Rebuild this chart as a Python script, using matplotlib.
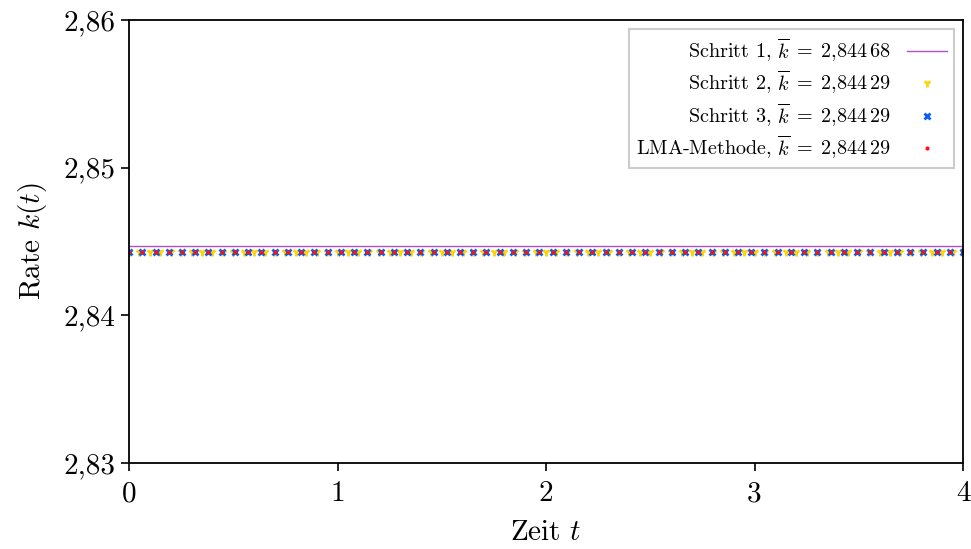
import numpy as np
import matplotlib
matplotlib.use('Agg')
import matplotlib.pyplot as plt
from matplotlib.ticker import FuncFormatter

# Daten (konstante Raten)
k_schritt1 = 2.84468
k_schritt2 = 2.84429
k_schritt3 = 2.84429
k_lma = 2.84429

t_linie = [0.0, 4.0]
t_schritt2 = np.linspace(0, 4, 81)
t_schritt3 = np.linspace(0, 4, 64)
t_lma = np.linspace(0, 4, 64)

labels = [r'Schritt 1, $\overline{k}\;=\;2{,}844\,68$',
          r'Schritt 2, $\overline{k}\;=\;2{,}844\,29$',
          r'Schritt 3, $\overline{k}\;=\;2{,}844\,29$',
          r'LMA-Methode, $\overline{k}\;=\;2{,}844\,29$']

xticks = [0, 1, 2, 3, 4]
yticks = [2.83, 2.84, 2.85, 2.86]

plt.rcParams['font.family'] = 'serif'
plt.rcParams['font.serif'] = ['cmr10']
plt.rcParams['mathtext.fontset'] = 'cm'
plt.rcParams['axes.formatter.use_mathtext'] = True
plt.rcParams['axes.unicode_minus'] = False

fig = plt.figure(figsize=(9.71, 5.49), dpi=100)
ax = fig.add_axes([0.1329, 0.1566, 0.9918 - 0.1329, 0.9636 - 0.1566])

ax.plot(t_linie, [k_schritt1] * len(t_linie), color='#b04fd0', lw=1.0, label=labels[0])
ax.plot(t_schritt2, [k_schritt2] * len(t_schritt2), ls='none', marker='1',
        color='#ffd400', ms=6, mew=2.0, label=labels[1])
ax.plot(t_schritt3, [k_schritt3] * len(t_schritt3), ls='none', marker='x',
        color='#0a60f0', ms=5, mew=2.0, label=labels[2])
ax.plot(t_lma, [k_lma] * len(t_lma), ls='none', marker='.',
        color='#ff1010', ms=4, label=labels[3])

ax.set_xlim(0, 4)
ax.set_ylim(2.83, 2.86)
ax.set_xticks(xticks)
ax.set_yticks(yticks)
ax.xaxis.set_major_formatter(FuncFormatter(lambda v, p: '%d' % v))
ax.yaxis.set_major_formatter(FuncFormatter(lambda v, p: ('%.2f' % v).replace('.', ',')))
ax.tick_params(labelsize=21, direction='out', length=6, width=1.2)
ax.tick_params(axis='x', pad=7)
for s in ax.spines.values():
    s.set_linewidth(1.3)

ax.set_xlabel(r'Zeit $t$', fontsize=21, labelpad=9)
ax.set_ylabel(r'Rate $k(t)$', fontsize=21, labelpad=11)

leg = ax.legend(loc='upper right', markerfirst=False, fontsize=14.5, fancybox=False,
                edgecolor='#cccccc', framealpha=1, borderpad=0.35, handlelength=2.0,
                labelspacing=0.22, borderaxespad=0.45)
leg.get_frame().set_linewidth(1.5)
for t in leg.get_texts():
    t.set_ha('right')

fig.savefig('out.png', dpi=100)
